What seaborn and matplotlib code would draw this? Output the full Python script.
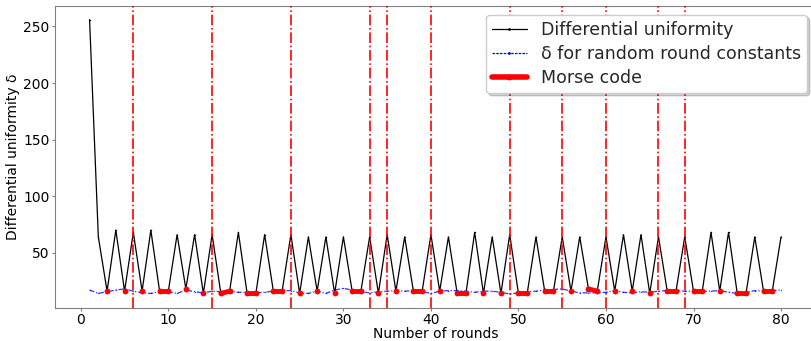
import numpy as np
import pandas as pd
import matplotlib
matplotlib.use("Agg")
import matplotlib.pyplot as plt
from matplotlib.lines import Line2D
import seaborn as sns

# ---- data ----
rounds = list(range(1, 81))
diff_uniformity = [256, 64, 16, 70, 16, 68, 16, 70, 16, 16,
                   66, 18, 66, 14, 66, 14, 16, 68, 14, 14,
                   66, 16, 16, 66, 14, 64, 16, 64, 14, 64,
                   16, 16, 64, 14, 66, 16, 64, 16, 16, 66,
                   16, 64, 14, 14, 68, 14, 64, 14, 66, 14,
                   14, 64, 16, 16, 64, 16, 64, 18, 16, 64,
                   16, 66, 16, 66, 14, 64, 16, 16, 64, 16,
                   16, 68, 16, 68, 14, 14, 64, 16, 16, 64]
delta_random = [17, 14, 15.5, 17, 18, 16, 14.5, 14, 15.5, 15.5,
                14, 17, 15.5, 14.5, 16, 15.5, 16, 15, 15, 14.5,
                15, 16, 16.5, 16.5, 14.5, 14, 16, 14, 17, 18.5,
                17, 15.5, 14.5, 15.5, 16, 16.5, 16, 16.5, 15.5, 14,
                16, 16.5, 16.5, 16, 15, 16, 16, 15, 13.5, 14.5,
                15.5, 16, 17, 17.5, 18, 16, 14.5, 14.5, 14.5, 15,
                16.5, 15, 14.5, 15.5, 15, 16, 16.5, 16.5, 16, 16,
                16, 16, 16.5, 15, 14, 15, 16.5, 16, 16.5, 17]
letter_boundaries = [6, 15, 24, 33, 35, 40, 49, 55, 60, 66, 69]
morse_threshold = 30

df = pd.DataFrame({"round": rounds, "du": diff_uniformity, "rand": delta_random})
mask = df["du"] < morse_threshold
df["seg"] = (mask != mask.shift()).cumsum()
morse_df = df[mask]

# ---- style ----
sns.set_style("white", {"axes.edgecolor": "0.5",
                        "xtick.bottom": True, "ytick.left": True,
                        "xtick.color": "0.5", "ytick.color": "0.5"})
plt.rcParams["font.family"] = ["DejaVu Sans"]

fig = plt.figure(figsize=(8.12, 3.41), dpi=100)
ax = fig.add_axes([55 / 812, 1 - 307.7 / 341, (815.6 - 55) / 812, (307.7 - 6) / 341])

sns.lineplot(data=df, x="round", y="du", ax=ax, color="black", lw=0.9,
             marker=".", markersize=2, markeredgewidth=0, zorder=2)
sns.lineplot(data=df, x="round", y="rand", ax=ax, color="blue", lw=0.9,
             linestyle=(0, (4, 1.5, 1, 1.5)), marker=".", markersize=2,
             markeredgewidth=0, alpha=0.8, zorder=2)
sns.lineplot(data=morse_df, x="round", y="du", units="seg", estimator=None,
             ax=ax, color="red", lw=3.5, marker="o", markersize=4.2,
             markeredgewidth=0, zorder=4)

for b in letter_boundaries:
    ax.axvline(b, color="red", linestyle="-.", lw=1.2, zorder=3)

ax.set_xticks([0, 10, 20, 30, 40, 50, 60, 70, 80])
ax.set_yticks([50, 100, 150, 200, 250])
ax.tick_params(axis="both", labelsize=10, labelcolor="black", length=2, width=0.8, pad=2)
ax.set_xlabel("Number of rounds", fontsize=10, color="black", labelpad=0)
ax.set_ylabel("Differential uniformity δ", fontsize=10, color="black", labelpad=2)

handles = [
    Line2D([], [], color="black", lw=0.9, marker=".", markersize=2),
    Line2D([], [], color="blue", lw=0.9, linestyle=(0, (2, 1)), marker=".", markersize=2),
    Line2D([], [], color="red", lw=4, marker="o", markersize=4.2, markeredgewidth=0),
]
labels = ["Differential uniformity", "δ for random round constants", "Morse code"]
ax.legend(handles, labels, loc="upper right", fontsize=12.5, labelspacing=0.35,
          borderpad=0.35, shadow={"alpha": 0.25}, frameon=True, fancybox=True)

fig.savefig("out.png", dpi=100)
